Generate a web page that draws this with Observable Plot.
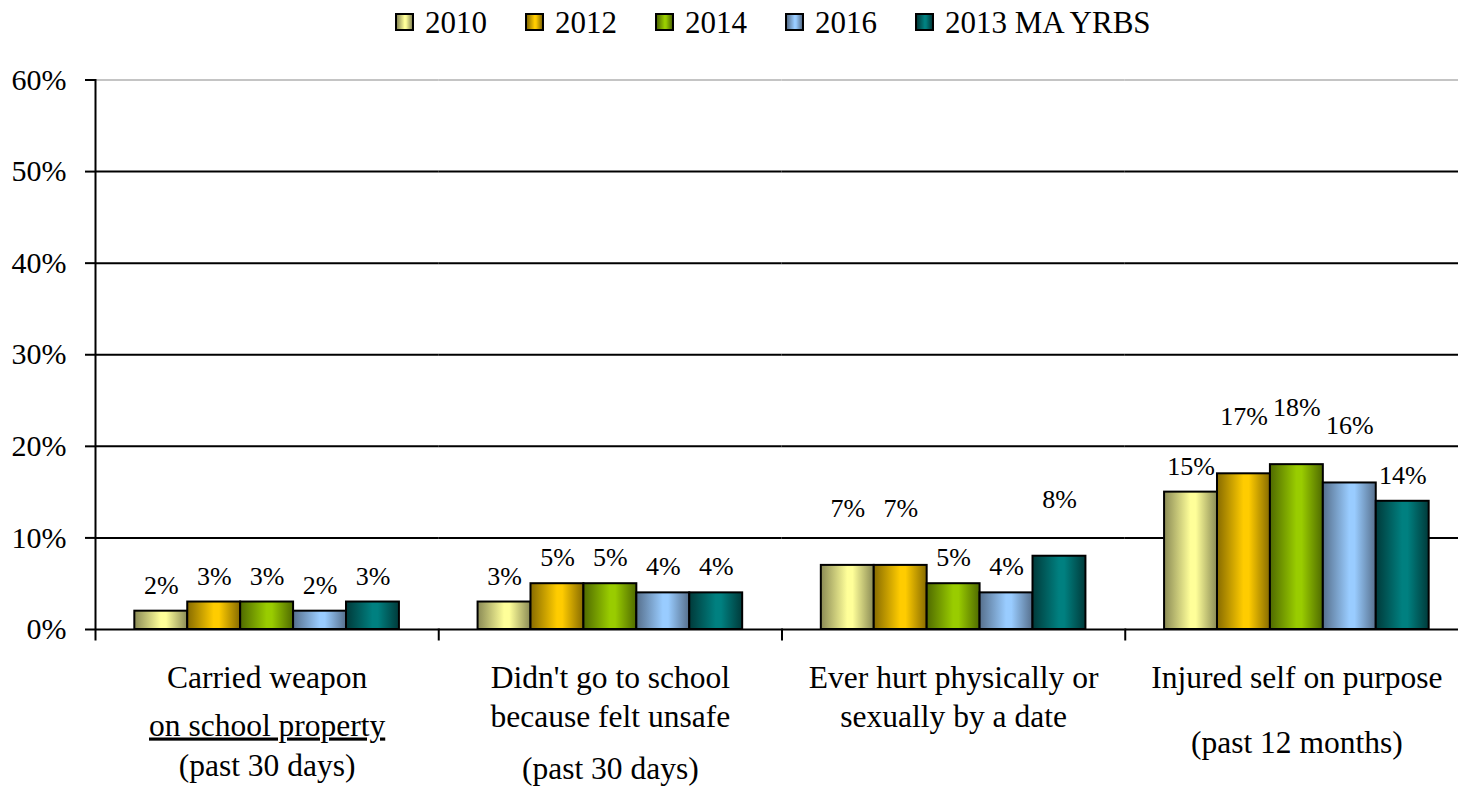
<!DOCTYPE html>
<html><head><meta charset="utf-8">
<script src="https://cdn.jsdelivr.net/npm/d3@7"></script>
<script src="https://cdn.jsdelivr.net/npm/@observablehq/plot@0.6"></script>
<style>
body{margin:0;background:#fff;font-family:"Liberation Serif","Times New Roman",serif;}
#legend{position:relative;height:45px;width:1458px;}
.item{position:absolute;top:0;height:45px;}
.sw{position:absolute;top:13px;left:0;width:19px;height:18px;box-sizing:border-box;border:2px solid #000;}
.lt{position:absolute;left:30px;top:4px;font-size:31px;line-height:1.2;white-space:nowrap;color:#000;}
#chart svg{display:block;}
</style></head><body>
<div id="legend"></div><div id="chart"></div>
<script>
// ---- data ----
const categories = ["Carried weapon on school property", "Didn't go to school because felt unsafe", "Ever hurt physically or sexually by a date", "Injured self on purpose"];
const categoryLines = [
  ["Carried weapon", "on school property", "(past 30 days)"],
  ["Didn't go to school", "because felt unsafe", "(past 30 days)"],
  ["Ever hurt physically or", "sexually by a date"],
  ["Injured self on purpose", "(past 12 months)"]
];
const series = ["2010", "2012", "2014", "2016", "2013 MA YRBS"];
const values2010 = [2, 3, 7, 15];
const values2012 = [3, 5, 7, 17];
const values2014 = [3, 5, 5, 18];
const values2016 = [2, 4, 4, 16];
const valuesMA   = [3, 4, 8, 14];
const yTicks = [0, 10, 20, 30, 40, 50, 60];

// ---- styles / layout ----
const FONT = "'Liberation Serif','Times New Roman',serif";
const lightColors = ["#FFFF99", "#FFCC00", "#99CC00", "#99CCFF", "#008080"];
const darkColors  = ["#8a8a55", "#876b00", "#4f6a00", "#566f8c", "#003a3a"];
const W = 1458, H = 748;
const marginLeft = 95, marginRight = 0, marginTop = 34.5, marginBottom = 164;
const innerHeight = H - marginTop - marginBottom;
const lineOffsets = [[58, 106, 146], [58, 97, 149], [58, 97], [58, 123]];

const seriesValues = [values2010, values2012, values2014, values2016, valuesMA];
const rows = [];
categories.forEach((c, i) => series.forEach((s, j) => rows.push({category: c, series: s, value: seriesValues[j][i]})));

// label placement: just above bar, moved up when it would sit on a gridline
function labelBase(v) {
  let b = v + 1.9;
  if (yTicks.some(g => g > b - 0.3 && g < b + 2.2)) b += 3.4;
  return b;
}

const lineMarks = [];
categoryLines.forEach((lines, i) => lines.forEach((t, j) => {
  lineMarks.push(Plot.text([{category: categories[i], text: t}], {
    fx: "category", text: "text", frameAnchor: "bottom", lineAnchor: "bottom",
    dy: lineOffsets[i][j], fontSize: 31.5, fill: "#000", fontFamily: FONT
  }));
}));

const frames = categories.map((c, i) => Plot.frame({
  anchor: "left", fx: () => c, stroke: "#000", strokeWidth: 2,
  insetTop: i === 0 ? 0 : innerHeight, insetBottom: -10
}));

const chart = Plot.plot({
  width: W, height: H,
  marginLeft, marginRight, marginTop, marginBottom,
  style: {fontFamily: FONT, color: "#000", background: "#fff"},
  fx: {domain: categories, range: [marginLeft, 1468], padding: 0, axis: null, round: false},
  x: {domain: series, paddingInner: 0, paddingOuter: 0.743, axis: null, round: false},
  y: {domain: [0, 60], label: null},
  color: {domain: series, range: series.map((_, i) => `url(#bar-grad-${i})`)},
  marks: [
    Plot.ruleY(yTicks.filter(d => d > 0 && d < 60), {stroke: "#000", strokeWidth: 2}),
    Plot.ruleY([60], {stroke: "#c4c4c4", strokeWidth: 2}),
    Plot.barY(rows, {fx: "category", x: "series", y: "value", fill: "series", stroke: "#000", strokeWidth: 2}),
    Plot.ruleY([0], {stroke: "#000", strokeWidth: 2}),
    ...frames,
    Plot.axisY({ticks: yTicks, tickFormat: d => d + "%", tickSize: 10, tickPadding: 19, fontSize: 30, strokeWidth: 2, label: null, fontFamily: FONT}),
    Plot.text(rows, {fx: "category", x: "series", y: d => labelBase(d.value), text: d => d.value + "%", lineAnchor: "bottom", fontSize: 26, fill: "#000", fontFamily: FONT}),
    ...lineMarks
  ]
});

// gradients
const defs = d3.select(chart).insert("defs", ":first-child");
series.forEach((s, i) => {
  const g = defs.append("linearGradient").attr("id", `bar-grad-${i}`).attr("x1", 0).attr("x2", 1).attr("y1", 0).attr("y2", 0);
  g.append("stop").attr("offset", "0%").attr("stop-color", darkColors[i]);
  g.append("stop").attr("offset", "50%").attr("stop-color", lightColors[i]);
  g.append("stop").attr("offset", "60%").attr("stop-color", lightColors[i]);
  g.append("stop").attr("offset", "100%").attr("stop-color", darkColors[i]);
});
d3.select(chart).selectAll("text").filter(function () { return this.textContent === "on school property"; })
  .style("text-decoration", "underline");
document.getElementById("chart").appendChild(chart);

// legend
const legend = d3.select("#legend");
series.forEach((s, i) => {
  const it = legend.append("div").attr("class", "item").style("left", (395 + 130 * i) + "px");
  it.append("div").attr("class", "sw")
    .style("background", `linear-gradient(to right, ${darkColors[i]}, ${lightColors[i]} 50%, ${lightColors[i]} 60%, ${darkColors[i]})`);
  it.append("span").attr("class", "lt").text(s);
});
</script></body></html>
